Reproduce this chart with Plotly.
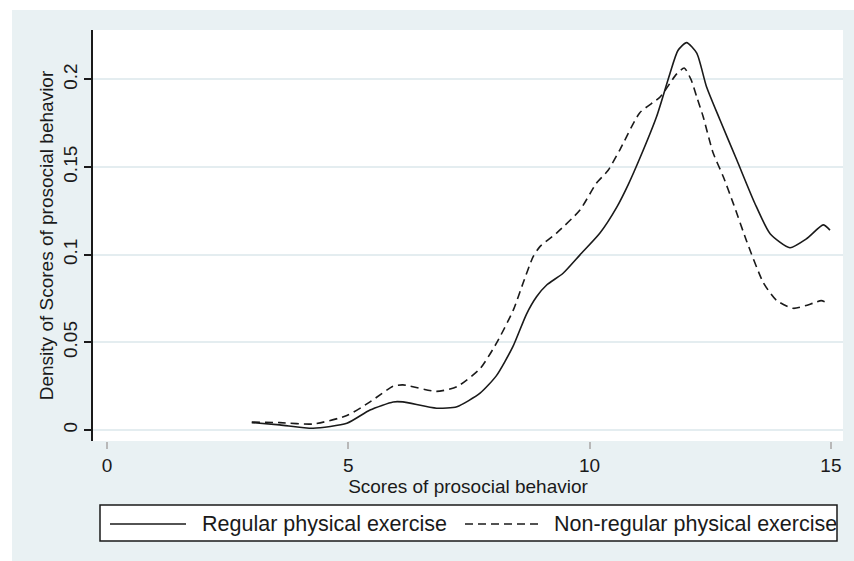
import plotly.graph_objects as go

# Data (kernel density estimates)
regular_x = [3.0, 3.58, 4.27, 4.97, 5.45, 5.93, 6.13, 6.83, 7.25, 7.73, 8.07, 8.41, 8.69, 8.9, 9.11,
             9.45, 9.8, 10.21, 10.56, 10.8, 11.04, 11.39, 11.66, 11.83, 12.01, 12.22, 12.42, 12.7,
             13.05, 13.42, 13.74, 14.15, 14.49, 14.84, 14.98]
regular_y = [0.0042, 0.0029, 0.001, 0.0038, 0.0114, 0.016, 0.016, 0.0124, 0.0133, 0.021, 0.031,
             0.0475, 0.066, 0.076, 0.0827, 0.0894, 0.0999, 0.1122, 0.127, 0.140, 0.155, 0.179, 0.203,
             0.2165, 0.221, 0.215, 0.196, 0.177, 0.154, 0.1295, 0.112, 0.104, 0.109, 0.117, 0.114]

nonregular_x = [3.0, 3.58, 4.27, 4.97, 5.45, 5.93, 6.13, 6.83, 7.25, 7.73, 8.07, 8.42, 8.62, 8.83,
                8.97, 9.31, 9.8, 10.14, 10.38, 10.63, 11.04, 11.46, 11.8, 11.96, 12.1, 12.22, 12.35,
                12.56, 12.77, 12.98, 13.25, 13.6, 13.87, 14.22, 14.63, 14.8, 14.94]
nonregular_y = [0.0045, 0.0042, 0.0034, 0.0082, 0.016, 0.025, 0.0257, 0.022, 0.0247, 0.035, 0.0495,
                0.0685, 0.0837, 0.0989, 0.1046, 0.1122, 0.1255, 0.1408, 0.148, 0.16, 0.181, 0.190,
                0.203, 0.2065, 0.200, 0.190, 0.179, 0.158, 0.1445, 0.129, 0.108, 0.084, 0.074,
                0.0694, 0.0723, 0.0738, 0.0723]

series_names = ["Regular physical exercise", "Non-regular physical exercise"]
x_ticks = [0, 5, 10, 15]
y_ticks = [0, 0.05, 0.1, 0.15, 0.2]
x_title = "Scores of prosocial behavior"
y_title = "Density of Scores of prosocial behavior"

FONT = "Liberation Sans, Arial, sans-serif"
BG = "#e9f1f3"
GRID = "#e4edf0"
INK = "#1a1a1a"

fig = go.Figure()
fig.add_trace(go.Scatter(x=regular_x, y=regular_y, mode="lines", name=series_names[0],
                         line=dict(color=INK, width=1.6, shape="spline", smoothing=0.6)))
fig.add_trace(go.Scatter(x=nonregular_x, y=nonregular_y, mode="lines", name=series_names[1],
                         line=dict(color=INK, width=1.6, dash="8px,5px", shape="spline", smoothing=0.6)))

# geometry helpers (plot area: 93..843 px horizontally, 30..441 px vertically)
L, R, T, B = 93, 843, 30, 441
def px(x):
    return (x - L) / (R - L)
def py(y):
    return (B - y) / (B - T)

shapes = [
    # white strips at the very left and top edges of the image
    dict(type="rect", xref="paper", yref="paper", x0=px(0), x1=px(12), y0=py(561), y1=py(0),
         fillcolor="white", line=dict(width=0), layer="below"),
    dict(type="rect", xref="paper", yref="paper", x0=px(0), x1=px(854), y0=py(10), y1=py(0),
         fillcolor="white", line=dict(width=0), layer="below"),
    # legend box
    dict(type="rect", xref="paper", yref="paper", x0=px(100), x1=px(837), y0=py(541), y1=py(505),
         fillcolor="white", line=dict(color=INK, width=1.5)),
    dict(type="line", xref="paper", yref="paper", x0=px(110), x1=px(186), y0=py(524), y1=py(524),
         line=dict(color=INK, width=1.6)),
    dict(type="line", xref="paper", yref="paper", x0=px(465), x1=px(540), y0=py(524), y1=py(524),
         line=dict(color=INK, width=1.6, dash="8px,5px")),
]
annotations = [
    dict(text=series_names[0], xref="paper", yref="paper", x=px(200), y=py(524),
         xanchor="left", yanchor="middle", showarrow=False, font=dict(size=21.5, color=INK, family=FONT)),
    dict(text=series_names[1], xref="paper", yref="paper", x=px(552), y=py(524),
         xanchor="left", yanchor="middle", showarrow=False, font=dict(size=21.5, color=INK, family=FONT)),
]

fig.update_layout(
    width=854, height=561,
    margin=dict(l=L, r=854 - R, t=T, b=561 - B, pad=0),
    paper_bgcolor=BG, plot_bgcolor="white",
    font=dict(family=FONT, size=19, color=INK),
    showlegend=False,
    shapes=shapes, annotations=annotations,
    xaxis=dict(range=[-0.29, 15.25], tickvals=x_ticks, ticks="outside", ticklen=7, tickwidth=1.5,
               tickcolor="#b8b8b8", showgrid=False, zeroline=False, showline=False,
               title=dict(text=x_title, standoff=0, font=dict(size=19)),
               tickfont=dict(size=19)),
    yaxis=dict(range=[-0.0063, 0.2282], tickvals=y_ticks, ticks="outside", ticklen=7, tickwidth=1.5,
               tickcolor=INK, showgrid=True, gridcolor=GRID, gridwidth=1.5, zeroline=False,
               showline=True, linecolor=INK, linewidth=1.6, tickangle=-90,
               title=dict(text=y_title, standoff=1, font=dict(size=19)),
               tickfont=dict(size=19)),
)

fig.write_html("out.html", config={"displayModeBar": False},
               post_script="document.body.style.margin='0';document.body.style.overflow='hidden';")
